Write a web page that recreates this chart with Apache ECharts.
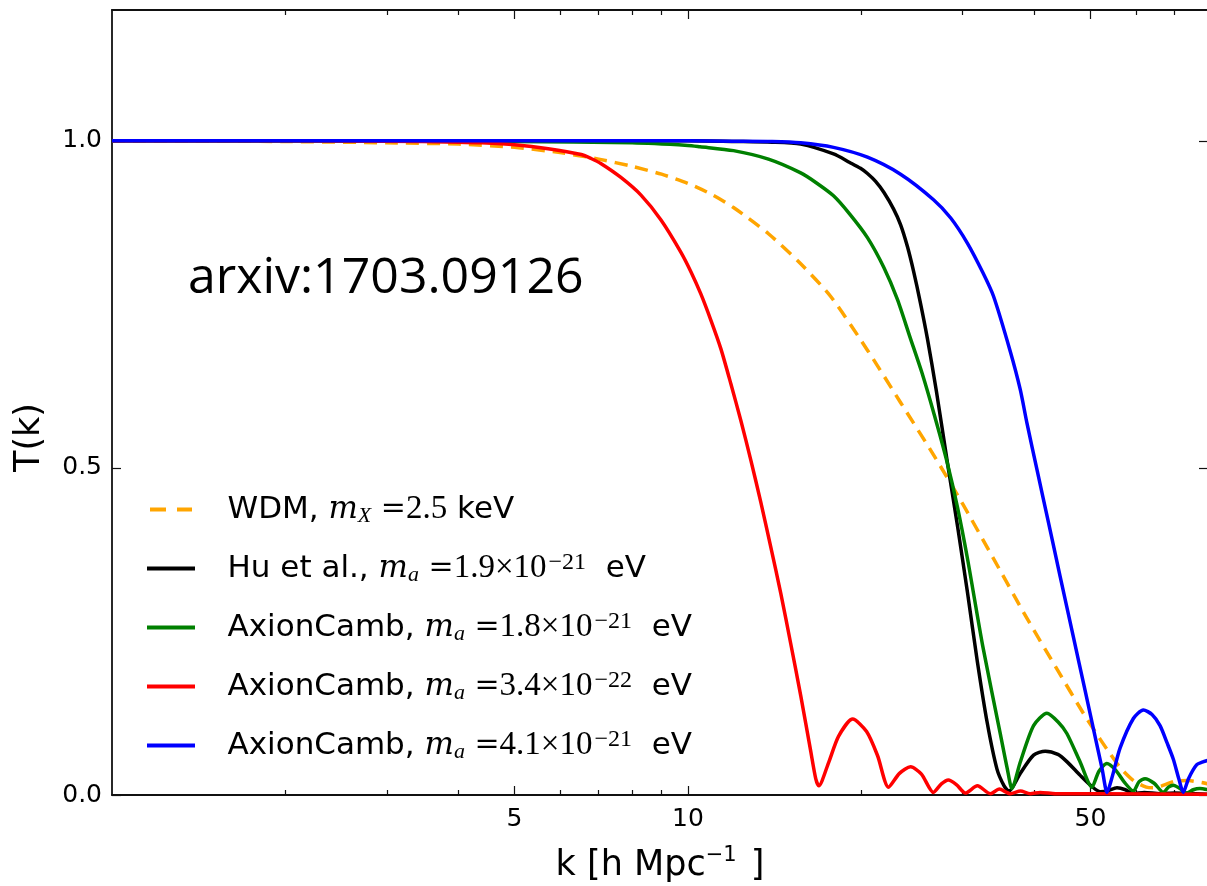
<!DOCTYPE html>
<html><head><meta charset="utf-8">
<script src="https://cdn.jsdelivr.net/npm/echarts@6/dist/echarts.min.js"></script>
<style>html,body{margin:0;padding:0;background:#fff;} #c{width:1207px;height:886px;}</style>
</head><body><div id="c"></div>
<script>
// ---- data ----
const kWDM = [1, 2, 3, 4, 5, 6, 7, 8, 9, 10, 11, 12, 13.8, 15.7, 17.7, 20.5, 23.4, 26.7, 30, 33.9, 38.8, 43.9, 48.6, 52, 54, 56.3, 59.4, 62.5, 64.5, 67, 70, 74, 78, 80];
const tWDM = [1.0, 0.999, 0.997, 0.995, 0.99, 0.982, 0.972, 0.961, 0.949, 0.935, 0.918, 0.898, 0.858, 0.812, 0.762, 0.68, 0.60, 0.52, 0.445, 0.362, 0.27, 0.19, 0.125, 0.085, 0.064, 0.042, 0.022, 0.012, 0.011, 0.015, 0.021, 0.022, 0.019, 0.017];

const kHu = [1, 5, 10, 12, 14, 15.7, 17.9, 19.1, 19.94, 20.5, 21.18, 21.9, 22.75, 23.4, 24.06, 24.66, 25.34, 26.05, 27.0, 28.2, 29.4, 30.6, 31.8, 33.1, 34.4, 35.4, 36.1, 37.76, 39.83, 41.74, 43.9, 45.5, 48.0, 50.29, 52.0, 53.4, 55.6, 57.5, 59.36, 62, 66, 70, 80];
const tHu = [1.0, 1.0, 1.0, 0.999, 0.998, 0.995, 0.98, 0.967, 0.958, 0.950, 0.938, 0.921, 0.896, 0.872, 0.838, 0.80, 0.752, 0.698, 0.618, 0.51, 0.41, 0.308, 0.205, 0.11, 0.04, 0.014, 0.006, 0.033, 0.061, 0.067, 0.062, 0.051, 0.03, 0.013, 0.005, 0.006, 0.011, 0.008, 0.002, 0.004, 0.002, 0.003, 0.001];

const kAx18 = [1, 5, 8, 10, 10.5, 12, 13.8, 15.7, 16.7, 17.9, 19.1, 20.5, 21.9, 23.1, 24.3, 25.5, 26.8, 28.2, 29.38, 30.6, 32.5, 34.9, 35.86, 36.53, 37.76, 39.83, 42.02, 43.9, 45.5, 48.0, 50.29, 51.7, 53.39, 55.3, 57.2, 59.36, 60.7, 62.19, 64.5, 66.92, 68.3, 69.62, 71.5, 73.45, 75.4, 77.45, 80];
const tAx18 = [1.0, 0.999, 0.997, 0.993, 0.991, 0.985, 0.972, 0.951, 0.936, 0.916, 0.888, 0.852, 0.806, 0.758, 0.70, 0.645, 0.58, 0.508, 0.44, 0.36, 0.228, 0.092, 0.04, 0.01, 0.05, 0.106, 0.125, 0.112, 0.094, 0.05, 0.012, 0.036, 0.048, 0.038, 0.02, 0.006, 0.02, 0.025, 0.018, 0.004, 0.012, 0.015, 0.01, 0.003, 0.008, 0.01, 0.008];

const kAx34 = [1, 2, 3, 4, 4.38, 5, 5.72, 6.53, 6.79, 7.07, 7.65, 8.29, 8.98, 9.72, 10.12, 10.53, 10.96, 11.41, 11.87, 12.36, 12.86, 13.38, 13.92, 14.50, 15.08, 15.70, 16.34, 16.67, 16.87, 17.56, 18.27, 19.32, 20.43, 21.35, 22.30, 23.30, 24.36, 25.44, 26.68, 27.55, 28.33, 29.25, 30.33, 31.82, 33.51, 34.72, 36.29, 37.8, 39.3, 40.9, 43.5, 52, 80];
const tAx34 = [1.0, 1.0, 0.9995, 0.998, 0.997, 0.994, 0.988, 0.979, 0.973, 0.965, 0.944, 0.917, 0.879, 0.83, 0.80, 0.766, 0.726, 0.682, 0.629, 0.572, 0.512, 0.448, 0.38, 0.308, 0.232, 0.152, 0.067, 0.025, 0.014, 0.05, 0.09, 0.116, 0.097, 0.06, 0.012, 0.033, 0.043, 0.032, 0.004, 0.017, 0.023, 0.016, 0.003, 0.014, 0.002, 0.009, 0.002, 0.006, 0.002, 0.004, 0.002, 0.002, 0.001];

const kAx41 = [1, 10, 12, 14, 15.7, 17.9, 20.5, 23.4, 26.7, 28.6, 30.6, 32.5, 33.95, 36.29, 37.76, 38.8, 40.43, 42.07, 44.3, 46.67, 48.96, 51.15, 52.39, 53.44, 54.63, 56.3, 59.36, 61.78, 63.96, 66.04, 67.9, 69.62, 71.23, 72.46, 74.0, 76.43, 78.6, 80];
const tAx41 = [1.0, 1.0, 0.9995, 0.999, 0.997, 0.99, 0.975, 0.949, 0.91, 0.882, 0.843, 0.799, 0.762, 0.678, 0.62, 0.568, 0.495, 0.425, 0.334, 0.243, 0.159, 0.082, 0.04, 0.004, 0.03, 0.072, 0.117, 0.130, 0.123, 0.106, 0.08, 0.055, 0.024, 0.004, 0.025, 0.046, 0.051, 0.053];

const xMajorTicks = [5, 10, 50];
const xMinorTicks = [2, 3, 4, 6, 7, 8, 9, 20, 30, 40, 60, 70];
const xTickLabels = [5, 10, 50];
const yTicks = [0, 0.5, 1.0];

const seriesNames = ['WDM', 'Hu', 'AC18', 'AC34', 'AC41'];
const seriesLabels = [
  '{sp|}{t|WDM, }{mi|m}{sub|X}{eq| =}{m|2.5}{t| keV}',
  '{sp|}{t|Hu et al., }{mi|m}{sub|a}{eq| =}{m|1.9×10}{sup|−21}{t|  eV}',
  '{sp|}{t|AxionCamb, }{mi|m}{sub|a}{eq| =}{m|1.8×10}{sup|−21}{t|  eV}',
  '{sp|}{t|AxionCamb, }{mi|m}{sub|a}{eq| =}{m|3.4×10}{sup|−22}{t|  eV}',
  '{sp|}{t|AxionCamb, }{mi|m}{sub|a}{eq| =}{m|4.1×10}{sup|−21}{t|  eV}'
];
const seriesColors = ['#ffa500', '#000000', '#008000', '#ff0000', '#0000ff'];
const seriesK = [kWDM, kHu, kAx18, kAx34, kAx41];
const seriesT = [tWDM, tHu, tAx18, tAx34, tAx41];

// ---- chart ----
const chart = echarts.init(document.getElementById('c'), null, {renderer: 'canvas'});
const AX = '#111';
const xBase = {type: 'log', logBase: 10, min: 1, max: 80, gridIndex: 0,
  splitLine: {show: false}, minorTick: {show: false}, minorSplitLine: {show: false}};
const lineSolid = 'path://M0,0H48V4H0Z';
const lineDash = 'path://M0,0H16V4H0Z M27,0H42V4H27Z';

const option = {
  animation: false,
  backgroundColor: '#fff',
  grid: {left: 112, top: 10, width: 1096, height: 785, containLabel: false, outerBoundsMode: 'none'},
  xAxis: [
    Object.assign({}, xBase, {position: 'bottom',
      axisLine: {show: true, onZero: false, lineStyle: {color: AX, width: 1.8}},
      axisTick: {show: true, inside: true, length: 9, customValues: xMajorTicks, lineStyle: {color: AX, width: 1.2}},
      axisLabel: {show: true, customValues: xTickLabels, margin: 12, fontSize: 25, fontFamily: 'DejaVu Sans', color: '#000',
        formatter: v => String(Math.round(v))},
      name: '{b|k [h Mpc}{s|−1}{b| ]}', nameLocation: 'middle', nameGap: 50,
      nameTextStyle: {rich: {
        b: {fontSize: 35, fontFamily: 'DejaVu Sans', color: '#000', lineHeight: 42},
        s: {fontSize: 21, fontFamily: 'DejaVu Sans', color: '#000', lineHeight: 20, verticalAlign: 'top', padding: [0, 3, 0, 0]}
      }}}),
    Object.assign({}, xBase, {position: 'bottom',
      axisLine: {show: false, onZero: false},
      axisTick: {show: true, inside: true, length: 5, customValues: xMinorTicks, lineStyle: {color: AX, width: 1.2}},
      axisLabel: {show: false}}),
    Object.assign({}, xBase, {position: 'top',
      axisLine: {show: true, onZero: false, lineStyle: {color: AX, width: 1.8}},
      axisTick: {show: true, inside: true, length: 9, customValues: xMajorTicks, lineStyle: {color: AX, width: 1.2}},
      axisLabel: {show: false}}),
    Object.assign({}, xBase, {position: 'top',
      axisLine: {show: false, onZero: false},
      axisTick: {show: true, inside: true, length: 5, customValues: xMinorTicks, lineStyle: {color: AX, width: 1.2}},
      axisLabel: {show: false}})
  ],
  yAxis: [
    {type: 'value', min: 0, max: 1.2, position: 'left', gridIndex: 0, splitLine: {show: false},
      axisLine: {show: true, onZero: false, lineStyle: {color: AX, width: 1.8}},
      axisTick: {show: true, inside: true, length: 9, customValues: yTicks, lineStyle: {color: AX, width: 1.2}},
      axisLabel: {show: true, customValues: yTicks, margin: 10, fontSize: 25, fontFamily: 'DejaVu Sans', color: '#000',
        formatter: v => Number(v).toFixed(1)},
      name: 'T(k)', nameLocation: 'middle', nameGap: 57, nameRotate: 90,
      nameTextStyle: {fontSize: 35, fontFamily: 'DejaVu Sans', color: '#000', lineHeight: 42, padding: [0, 70, 0, 0]}},
    {type: 'value', min: 0, max: 1.2, position: 'right', gridIndex: 0, splitLine: {show: false},
      axisLine: {show: true, onZero: false, lineStyle: {color: AX, width: 1.8}},
      axisTick: {show: true, inside: true, length: 9, customValues: yTicks, lineStyle: {color: AX, width: 1.2}},
      axisLabel: {show: false}}
  ],
  legend: {
    orient: 'vertical', left: 147, top: 493, padding: 0, itemGap: 23,
    itemWidth: 49, itemHeight: 4, selectedMode: false,
    itemStyle: {borderWidth: 0},
    formatter: name => seriesLabels[seriesNames.indexOf(name)],
    textStyle: {rich: {
      sp: {width: 27, lineHeight: 36},
      t: {fontFamily: 'DejaVu Sans', fontSize: 31, color: '#000', lineHeight: 36},
      mi: {fontFamily: 'DejaVu Serif', fontStyle: 'italic', fontSize: 31, color: '#000', lineHeight: 36},
      eq: {fontFamily: 'DejaVu Serif', fontSize: 30, color: '#000', lineHeight: 36},
      m: {fontFamily: 'Liberation Serif', fontSize: 33, color: '#000', lineHeight: 36},
      sub: {fontFamily: 'Liberation Serif', fontStyle: 'italic', fontSize: 22, color: '#000', lineHeight: 12, verticalAlign: 'bottom'},
      sup: {fontFamily: 'Liberation Serif', fontSize: 24, color: '#000', lineHeight: 20, verticalAlign: 'top', padding: [0, 0, 0, 2]}
    }},
    data: seriesNames.map((n, i) => ({name: n, icon: i === 0 ? lineDash : lineSolid}))
  },
  graphic: [{
    type: 'text', left: 188, top: 254, silent: true,
    style: {text: 'arxiv:1703.09126', font: '50px "Open Sans"', fill: '#000'}
  }],
  series: seriesNames.map((n, i) => ({
    name: n, type: 'line', xAxisIndex: 0, yAxisIndex: 0,
    showSymbol: false, symbol: 'none', smooth: 0.25,
    color: seriesColors[i],
    lineStyle: {color: seriesColors[i], width: 3.5, type: i === 0 ? [13, 8] : 'solid', join: 'round', cap: 'butt'},
    emphasis: {disabled: true},
    data: seriesK[i].map((k, j) => [k, seriesT[i][j]])
  }))
};
chart.setOption(option);
</script>
</body></html>
